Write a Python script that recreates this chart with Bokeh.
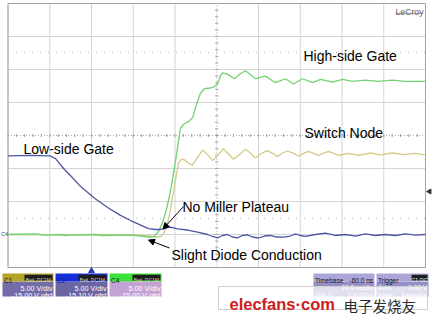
import math
from bokeh.plotting import figure
from bokeh.models import Arrow, NormalHead
from bokeh.core.properties import value
from bokeh.embed import file_html
from bokeh.resources import INLINE

# ---------------- data (time in ns, 20 ns/div; volts, 5 V/div) ----------------
low_gate_t = [-40, -29, -19.6, -17.2, -13.4, -9.1, -5.3, 1.0, 7.7, 13.9, 20.1, 27.3, 30.7,
              33.1, 35.0, 36.9, 38.8, 41.2, 46.0, 50.8, 55.6, 58.0, 60.4, 62.8, 65.1, 67.5,
              69.9, 72.3, 74.7, 77.1, 80.0, 82.9, 85.7, 88.6, 92.0, 95.3, 97.7, 100.1, 102.5,
              107.3, 112.1, 116.9, 121.7, 126.5, 131.3, 136.0, 140.8, 145.6, 150.4, 155.2, 160]
low_gate_v = [11.9, 12.0, 11.9, 11.5, 10.0, 8.6, 7.3, 5.6, 4.1, 2.9, 1.9, 0.9, 0.76,
              0.76, 0.9, 1.1, 1.06, 0.86, 0.68, 0.35, 0.0, -0.3, -0.5, -0.15, 0.0, -0.38,
              -0.5, -0.15, -0.05, -0.38, -0.53, -0.23, -0.15, -0.38, -0.41, -0.23, 0.08, -0.15, -0.3,
              0.0, 0.2, -0.15, 0.0, -0.23, 0.08, -0.15, 0.0, -0.15, 0.08, -0.08, 0.0]

high_gate_t = [-40, -26.8, -22.0, -14.9, -12.5, -10.1, 1.9, 4.3, 18.7, 23.5, 27.3, 29.2, 30.2,
               32.1, 34.0, 36.0, 37.9, 39.8, 41.7, 42.6, 44.1, 46.5, 48.4, 50.3, 52.2, 54.1,
               57.0, 58.4, 60.4, 61.8, 62.8, 65.1, 68.5, 71.4, 73.8, 76.2, 78.6, 83.4, 88.1,
               92.9, 96.8, 101.1, 105.9, 109.7, 115.5, 120.2, 125.0, 131.3, 137.5, 144.2, 150.4, 160]
high_gate_v = [0.0, 0.08, -0.08, 0.0, -0.15, -0.08, 0.0, -0.15, -0.08, -0.23, -0.38, -0.38, -0.23,
               0.45, 1.8, 3.9, 6.7, 10.2, 14.2, 16.1, 16.7, 17.1, 17.7, 19.7, 21.4, 22.1,
               22.2, 22.3, 22.8, 24.1, 24.5, 24.3, 23.6, 24.4, 24.8, 24.2, 23.6, 24.0, 23.0,
               23.6, 22.8, 23.6, 23.0, 23.5, 23.1, 23.5, 23.2, 23.4, 23.2, 23.4, 23.2, 23.2]

switch_t = [-40, -19.6, 4.3, 23.5, 28.3, 30.7, 33.1, 34.5, 36.0, 37.4, 38.8, 40.2, 41.7,
            43.1, 44.6, 46.5, 48.4, 50.8, 53.2, 55.6, 58.0, 60.4, 63.2, 65.6, 68.0, 70.9,
            73.8, 76.2, 78.6, 81.4, 84.3, 86.7, 89.1, 91.5, 93.9, 96.8, 99.2, 101.6, 103.9,
            106.3, 108.7, 111.1, 113.5, 115.9, 118.3, 123.1, 127.9, 133.7, 138.4, 144.2, 149.5, 154.7, 160]
switch_v = [0.0, -0.05, 0.0, -0.08, -0.23, -0.38, -0.3, 0.15, 1.2, 3.0, 5.6, 8.2, 10.8,
            11.4, 11.3, 10.8, 10.5, 11.7, 12.8, 12.1, 11.2, 12.0, 13.0, 12.2, 11.4, 12.1,
            12.9, 12.3, 11.6, 12.3, 12.7, 12.3, 11.8, 12.35, 12.65, 12.3, 11.9, 12.3, 12.6,
            12.3, 12.0, 12.3, 12.6, 12.3, 12.0, 12.3, 12.0, 12.35, 12.05, 12.35, 12.1, 12.3, 12.05]

grid_t = list(range(-40, 161, 20))
grid_v = list(range(-5, 36, 5))
center_t, center_v = 60, 15

labels = ["High-side Gate", "Switch Node", "Low-side Gate", "No Miller Plateau", "Slight Diode Conduction"]

ch_names = ["C1", "C2", "C4"]
ch_vdiv = ["5.00 V/div", "5.00 V/div", "5.00 V/div"]
ch_ofst = ["-15.00 V ofst", "-15.10 V ofst", "-15.00 V ofst"]
tb_lines = [("Timebase", "-60.0 ns"), ("", "20.0 ns/div"), ("200 S", "1.0 GS/s")]
tr_lines = [("Trigger", "C1 DC"), ("Auto", "0.00 V"), ("Edge", "Negative")]

# ---------------- geometry helpers (screen px -> data) ----------------
W, H = 432, 318
def X(px):
    return (px - 91.0) / 2.0875
def Y(py):
    return (234.0 - py) / 6.6

FONT = "Liberation Sans"

p = figure(width=W, height=H, x_range=(X(0), X(W)), y_range=(Y(H), Y(0)),
           x_axis_location=None, y_axis_location=None, toolbar_location=None,
           output_backend="svg", min_border=0)
p.grid.visible = False
p.outline_line_color = None
p.background_fill_color = "white"
p.border_fill_color = "white"

# grid
gx = [t for t in grid_t if t != center_t]
p.segment(x0=gx, y0=[grid_v[0]] * len(gx), x1=gx, y1=[grid_v[-1]] * len(gx),
          line_color="#d4d4d4", line_width=1)
gy = [v for v in grid_v if v != center_v]
p.segment(x0=[grid_t[0]] * len(gy), y0=gy, x1=[grid_t[-1]] * len(gy), y1=gy,
          line_color="#d4d4d4", line_width=1)
# cursors
for py in (52, 218):
    p.segment(x0=[grid_t[0]], y0=[Y(py)], x1=[grid_t[-1]], y1=[Y(py)],
              line_color="#b8b8b8", line_dash="1 7", line_width=1.2)
# center axes (dotted with ticks)
p.segment(x0=[center_t], y0=[grid_v[0]], x1=[center_t], y1=[grid_v[-1]],
          line_color="#a8a8a8", line_dash="1 2", line_width=1)
p.segment(x0=[grid_t[0]], y0=[center_v], x1=[grid_t[-1]], y1=[center_v],
          line_color="#a8a8a8", line_dash="1 2", line_width=1)
tick_v = [grid_v[0] + k for k in range(0, 41)]
dx = 1.6 / 2.0875
p.segment(x0=[center_t - dx] * len(tick_v), y0=tick_v, x1=[center_t + dx] * len(tick_v), y1=tick_v,
          line_color="#a0a0a0", line_width=1)
tick_t = [grid_t[0] + 4 * k for k in range(0, 51)]
dy = 1.6 / 6.6
p.segment(x0=tick_t, y0=[center_v - dy] * len(tick_t), x1=tick_t, y1=[center_v + dy] * len(tick_t),
          line_color="#a0a0a0", line_width=1)
# frame
p.quad(left=[grid_t[0]], right=[grid_t[-1]], bottom=[grid_v[0]], top=[grid_v[-1]],
       fill_color=None, line_color="#a4a4a4", line_width=1)

# traces
p.line(switch_t, switch_v, line_color="#d4ca86", line_width=1.3)
p.line(high_gate_t, high_gate_v, line_color="#72d272", line_width=1.3)
p.line(low_gate_t, low_gate_v, line_color="#4d55a0", line_width=1.3)

# annotations
lab_px = [(303, 55.5), (304, 132.5), (23, 148.5), (182, 206.5), (171, 254)]
p.text(x=[X(a) for a, b in lab_px], y=[Y(b) for a, b in lab_px], text=labels,
       text_font=value(FONT), text_font_size="14px", text_color="#000000",
       text_align="left", text_baseline="alphabetic")
p.add_layout(Arrow(end=NormalHead(size=6, fill_color="black", line_color="black"),
                   x_start=X(183), y_start=Y(206), x_end=X(162.5), y_end=Y(228.5),
                   line_color="black", line_width=1))
p.add_layout(Arrow(end=NormalHead(size=6, fill_color="black", line_color="black"),
                   x_start=X(169), y_start=Y(247.5), x_end=X(148), y_end=Y(239.5),
                   line_color="black", line_width=1))

def txt(x, y, s, size, color, align="left", font=FONT, style="normal"):
    p.text(x=[X(x)], y=[Y(y)], text=[s], text_font=value(font), text_font_size=f"{size}px",
           text_color=color, text_align=align, text_baseline="alphabetic", text_font_style=style)

def box(x0, x1, y0, y1, color, line=None, alpha=1.0):
    p.quad(left=[X(x0)], right=[X(x1)], top=[Y(y0)], bottom=[Y(y1)], fill_color=color,
           fill_alpha=alpha, line_color=line)

# LeCroy logo
txt(395, 11.5, "LeCroy", 8.7, "#666666")
p.segment(x0=[X(395)], y0=[Y(12.8)], x1=[X(423)], y1=[Y(12.8)], line_color="#777777", line_width=0.8)

# small markers
p.scatter(x=[X(91)], y=[Y(270.5)], marker="triangle", size=6, fill_color="#2a3ab8", line_color="#2a3ab8")
p.scatter(x=[X(429)], y=[Y(191)], marker="triangle", angle=math.pi / 2, size=5,
          fill_color="#333333", line_color="#333333")
txt(0.5, 233.5, "C4", 5.5, "#2d4f8a")

# channel descriptor boxes
ch_x = [(2, 53), (55, 107), (109, 161)]
ch_head = ["#b3a52a", "#1530d8", "#3ce03c"]
ch_body = ["#736ca6", "#6b65a3", "#c3a3d3"]
ch_lab = ["#111111", "#0a1a90", "#111111"]
for (x0, x1), hc, bc, lc, nm, vd, of in zip(ch_x, ch_head, ch_body, ch_lab, ch_names, ch_vdiv, ch_ofst):
    box(x0, x1, 281, 296, bc)
    box(x0, x1, 273, 281, hc)
    txt(x0 + 1.5, 279.5, nm, 6.5, lc)
    box(x1 - 29, x1 - 1, 274.2, 280, "#1e1e1e")
    txt(x1 - 15, 279.2, "BwL DC1M", 5, "#d8d8b0", align="center")
    txt(x1 - 1, 287.8, vd, 7.2, "#ffffff", align="right")
    txt(x1 - 1, 295, of, 7.2, "#ffffff", align="right")

# timebase / trigger boxes
for (x0, x1), rows in (((313, 374), tb_lines), ((376, 428), tr_lines)):
    box(x0, x1, 281, 296, "#958fc7")
    box(x0, x1, 273, 281, "#aca6d8")
    for i, (lt, rt) in enumerate(rows):
        yb = 279.5 + i * 7.5
        col = "#111111" if i == 0 else "#ffffff"
        if lt:
            txt(x0 + 1.5, yb, lt, 6.5, col)
        if i == 0 and lt == "Trigger":
            box(x1 - 17, x1 - 1, 274.2, 280, "#1e1e1e")
            txt(x1 - 9, 279.2, rt, 5.5, "#e0e0e0", align="center")
        else:
            txt(x1 - 1.5, yb, rt, 6.5, col, align="right")

# watermark overlay
box(218, 427, 286, 309, "#ffffff", line="#cfcfcf", alpha=0.72)
txt(229, 303, "elecfans·com", 16.5, "#cf1b1b", style="bold")
txt(343, 305, "电子发烧友", 14.5, "#2a2a2a", font="Noto Sans CJK SC")

open("out.html", "w").write(file_html(p, INLINE))
